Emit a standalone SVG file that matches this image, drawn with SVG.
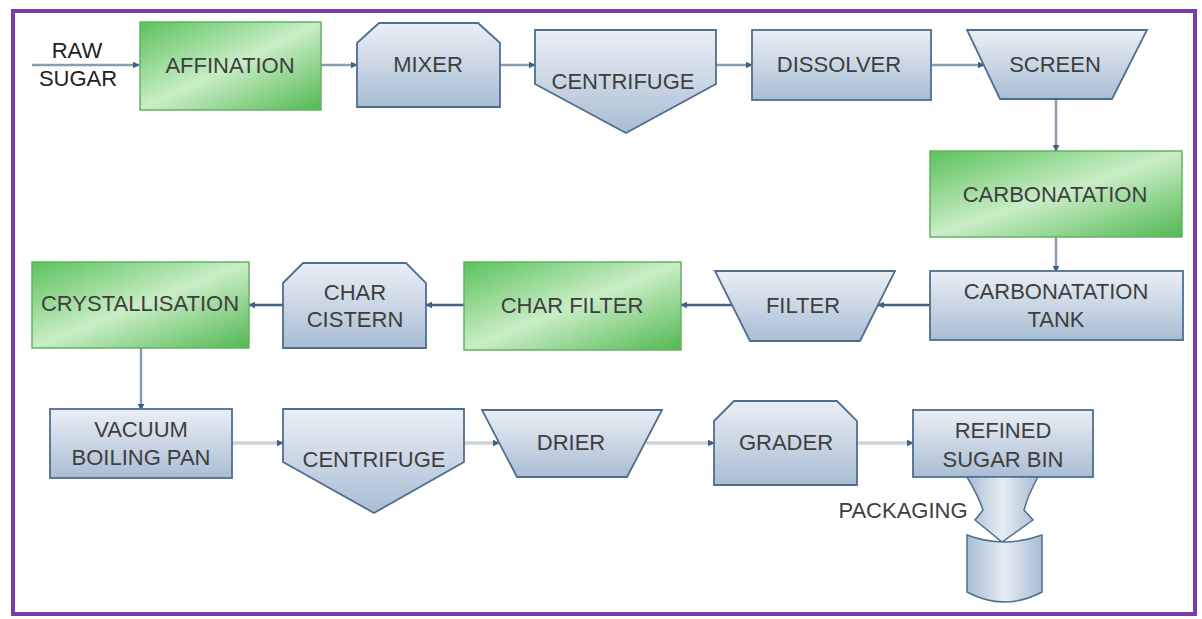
<svg xmlns="http://www.w3.org/2000/svg" width="1202" height="619" viewBox="0 0 1202 619">
<defs>
<linearGradient id="gBlue" x1="0" y1="0" x2="0" y2="1">
<stop offset="0" stop-color="#eaeff6"/>
<stop offset="1" stop-color="#a9bdd3"/>
</linearGradient>
<linearGradient id="gGreen" x1="0" y1="0" x2="1" y2="1">
<stop offset="0" stop-color="#5cc25c"/>
<stop offset="0.5" stop-color="#c9edc6"/>
<stop offset="1" stop-color="#52b852"/>
</linearGradient>
<linearGradient id="gArrow" x1="0" y1="0" x2="1" y2="0">
<stop offset="0" stop-color="#a9bdd3"/>
<stop offset="0.5" stop-color="#e6ecf4"/>
<stop offset="1" stop-color="#a9bdd3"/>
</linearGradient>
<marker id="ah" viewBox="0 0 10 10" refX="9" refY="5" markerWidth="7" markerHeight="7" markerUnits="userSpaceOnUse" orient="auto">
<path d="M0,0 L10,5 L0,10 z" fill="#3f6185"/>
</marker>
</defs>
<style>
.blue{fill:url(#gBlue);stroke:#4f6e8f;stroke-width:1.8}
.green{fill:url(#gGreen);stroke:#62b462;stroke-width:1.5}
.t{font-family:"Liberation Sans",Arial,sans-serif;font-size:22px;fill:#3e3e3e;text-anchor:middle}
.c1{fill:none;stroke:#8a9db0;stroke-width:2.5;marker-end:url(#ah)}
.c2{fill:none;stroke:#3f6185;stroke-width:2.5;marker-end:url(#ah)}
.c3{fill:none;stroke:#cdd4db;stroke-width:3.5;marker-end:url(#ah)}
</style>
<rect x="0" y="0" width="1202" height="619" fill="#ffffff"/>
<rect x="13" y="11" width="1182" height="603" fill="none" stroke="#7a3cab" stroke-width="4"/>

<g id="connectors">
<line class="c1" x1="32" y1="65" x2="139" y2="65"/>
<line class="c1" x1="321" y1="65" x2="357" y2="65"/>
<line class="c1" x1="500" y1="65" x2="535" y2="65"/>
<line class="c1" x1="716" y1="65" x2="752" y2="65"/>
<line class="c1" x1="931" y1="65" x2="984" y2="65"/>
<line class="c1" x1="1056" y1="99" x2="1056" y2="151"/>
<line class="c1" x1="1056" y1="237" x2="1056" y2="272"/>
<line class="c2" x1="930" y1="305" x2="878" y2="305"/>
<line class="c2" x1="732" y1="305" x2="681" y2="305"/>
<line class="c2" x1="464" y1="305" x2="426" y2="305"/>
<line class="c2" x1="283" y1="305" x2="249" y2="305"/>
<line class="c1" x1="141" y1="348" x2="141" y2="410"/>
<line class="c3" x1="232" y1="443" x2="283" y2="443"/>
<line class="c3" x1="464" y1="443" x2="499" y2="443"/>
<line class="c3" x1="646" y1="443" x2="714" y2="443"/>
<line class="c3" x1="857" y1="443" x2="913" y2="443"/>
</g>

<g id="raw-sugar">
<text class="t" x="77" y="58" style="fill:#222">RAW</text>
<text class="t" x="78" y="86" style="fill:#222">SUGAR</text>
</g>

<g id="affination">
<rect class="green" x="140" y="22" width="181" height="88"/>
<text class="t" x="230" y="73">AFFINATION</text>
</g>

<g id="mixer">
<polygon class="blue" points="357,43 379,23 478,23 500,43 500,107 357,107"/>
<text class="t" x="428" y="72">MIXER</text>
</g>

<g id="centrifuge1">
<polygon class="blue" points="535,30 716,30 716,84 626,133 535,84"/>
<text class="t" x="623" y="89">CENTRIFUGE</text>
</g>

<g id="dissolver">
<rect class="blue" x="752" y="30" width="179" height="70"/>
<text class="t" x="839" y="72">DISSOLVER</text>
</g>

<g id="screen">
<polygon class="blue" points="967,30 1147,30 1112,99 1000,99"/>
<text class="t" x="1055" y="72">SCREEN</text>
</g>

<g id="carbonatation">
<rect class="green" x="930" y="151" width="252" height="86"/>
<text class="t" x="1055" y="202">CARBONATATION</text>
</g>

<g id="carbonatation-tank">
<rect class="blue" x="930" y="271" width="253" height="69"/>
<text class="t" x="1056" y="299">CARBONATATION</text>
<text class="t" x="1056" y="327">TANK</text>
</g>

<g id="filter">
<polygon class="blue" points="715,271 895,271 860,341 750,341"/>
<text class="t" x="803" y="313">FILTER</text>
</g>

<g id="char-filter">
<rect class="green" x="464" y="262" width="217" height="88"/>
<text class="t" x="572" y="313">CHAR FILTER</text>
</g>

<g id="char-cistern">
<polygon class="blue" points="283,283 303,263 406,263 426,283 426,348 283,348"/>
<text class="t" x="355" y="300">CHAR</text>
<text class="t" x="355" y="327">CISTERN</text>
</g>

<g id="crystallisation">
<rect class="green" x="32" y="262" width="217" height="86"/>
<text class="t" x="140" y="311">CRYSTALLISATION</text>
</g>

<g id="vacuum-boiling-pan">
<rect class="blue" x="50" y="409" width="182" height="69"/>
<text class="t" x="141" y="437">VACUUM</text>
<text class="t" x="141" y="465">BOILING PAN</text>
</g>

<g id="centrifuge2">
<polygon class="blue" points="283,409 464,409 464,462 374,513 283,462"/>
<text class="t" x="374" y="467">CENTRIFUGE</text>
</g>

<g id="drier">
<polygon class="blue" points="482,410 662,410 627,477 517,477"/>
<text class="t" x="571" y="450">DRIER</text>
</g>

<g id="grader">
<polygon class="blue" points="714,421 734,401 837,401 857,421 857,485 714,485"/>
<text class="t" x="786" y="450">GRADER</text>
</g>

<g id="refined-sugar-bin">
<rect class="blue" x="913" y="410" width="180" height="67"/>
<text class="t" x="1003" y="438">REFINED</text>
<text class="t" x="1003" y="467">SUGAR BIN</text>
</g>

<g id="packaging">
<path d="M967,477 L1038,477 Q1028,495 1024,510 L1033,520 L1002,542 L975,520 L983,510 Q978,495 967,477 Z" fill="url(#gArrow)" stroke="#4f6e8f" stroke-width="1.5"/>
<path d="M967,535 Q1004,549 1042,535 L1042,592 Q1004,612 967,592 Z" fill="url(#gArrow)" stroke="#4f6e8f" stroke-width="1.5"/>
<text class="t" x="903" y="518">PACKAGING</text>
</g>
</svg>
